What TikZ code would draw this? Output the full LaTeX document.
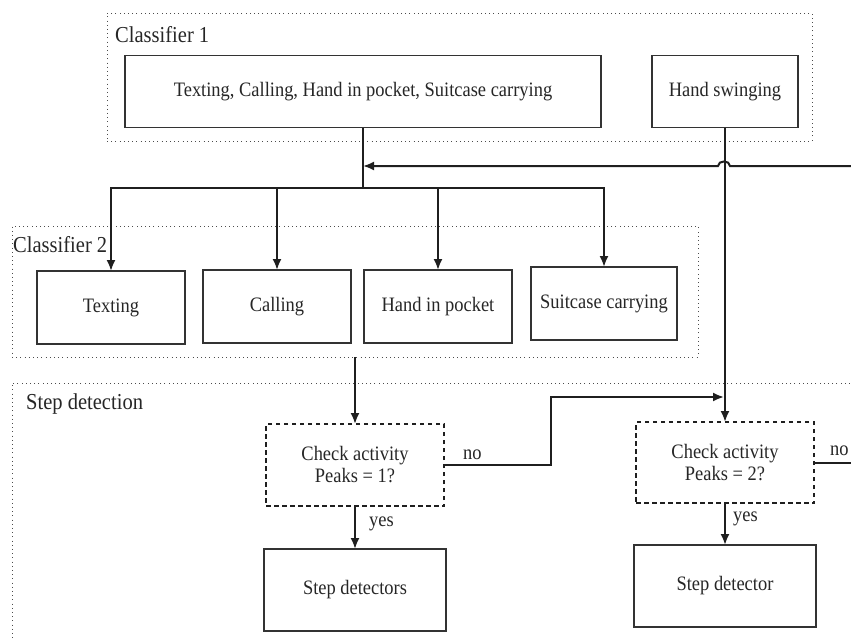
\documentclass[tikz,border=0pt]{standalone}
\usepackage{fontspec}
\setmainfont{Liberation Serif}[FakeStretch=0.9]
\usetikzlibrary{arrows.meta}
\begin{document}
\begin{tikzpicture}[x=1pt,y=-1pt,
  box/.style={draw=black!80, line width=1.3pt, anchor=north west, inner sep=0pt,
    outer sep=0pt, align=center, font=\fontsize{20.5}{22}\selectfont, text=black!85},
  checkbox/.style={box, dash pattern=on 4.5pt off 3.5pt, line width=2pt, draw=black!88},
  group/.style={draw=black!70, line width=0.9pt, dash pattern=on 0.9pt off 3.3pt,
    anchor=north west, inner sep=0pt, outer sep=0pt},
  grouplabel/.style={anchor=base west, inner sep=0pt, font=\fontsize{22.8}{24}\selectfont, text=black!85},
  edgelabel/.style={anchor=base west, inner sep=0pt, font=\fontsize{20.5}{22}\selectfont, text=black!85},
  wire/.style={draw=black!88, line width=2pt},
  flow/.style={wire, -{Latex[length=11pt,width=9pt]}}
]
\useasboundingbox (0,0) rectangle (851,637);
\clip (0,0) rectangle (851,637);

% dotted groups
\node[group, minimum width=705pt, minimum height=128pt] (grp1) at (107,13) {};
\node[group, minimum width=686pt, minimum height=131pt] (grp2) at (12,226) {};
\node[group, minimum width=880pt, minimum height=300pt] (grp3) at (12,383) {};

\node[grouplabel] (lab1) at (115,42) {Classifier 1};
\node[grouplabel] (lab2) at (13,252) {Classifier 2};
\node[grouplabel] (lab3) at (26,409) {Step detection};

% classifier 1
\node[box, minimum width=476pt, minimum height=72pt] (c1all) at (125,55.5)
  {Texting, Calling, Hand in pocket, Suitcase carrying};
\node[box, minimum width=146pt, minimum height=72pt] (hs) at (652,55.5) {Hand swinging};

% classifier 2
\node[box, minimum width=148pt, minimum height=73pt] (texting) at (37,271) {Texting};
\node[box, minimum width=148pt, minimum height=73pt] (calling) at (203,270) {Calling};
\node[box, minimum width=148pt, minimum height=73pt] (pocket) at (364,270) {Hand in pocket};
\node[box, minimum width=146pt, minimum height=73pt] (suitcase) at (531,267) {Suitcase carrying};

% step detection
\node[checkbox, minimum width=178pt, minimum height=82pt] (p1) at (266,424)
  {Check activity\\Peaks = 1?};
\node[checkbox, minimum width=178pt, minimum height=81pt] (p2) at (636,422)
  {Check activity\\Peaks = 2?};
\node[box, minimum width=182pt, minimum height=82pt] (sd1) at (264,549) {Step detectors};
\node[box, minimum width=182pt, minimum height=82pt] (sd2) at (634,545) {Step detector};

\node[edgelabel] (no1) at (463,459) {no};
\node[edgelabel] (no2) at (830,455) {no};
\node[edgelabel] (yes1) at (369,526) {yes};
\node[edgelabel] (yes2) at (733,521) {yes};

% connectors
\coordinate (split) at (363,188);
\coordinate (fbin) at (851,166);
\coordinate (fbjoin) at (363,166);
\coordinate (merge) at (724,397);
\coordinate (exit2) at (851,462);

\draw[wire] (c1all.south) -- (split);
\draw[flow] (split) -| (texting.north);
\draw[flow] (split) -| (calling.north);
\draw[flow] (split) -| (pocket.north);
\draw[flow] (split) -| (suitcase.north);

\draw[flow] (fbin) -- (730,166) .. controls (730,160) and (718,160) .. (718,166) -- (fbjoin);
\draw[flow] (hs.south) -- (p2.north);

\draw[flow] (grp2.south -| p1.north) -- (p1.north);
\draw[flow] (p1.east) -- (551,465) |- (merge);
\draw[wire] (p2.east) -- (p2.east -| exit2);
\draw[flow] (p1.south) -- (sd1.north);
\draw[flow] (p2.south) -- (sd2.north);
\end{tikzpicture}
\end{document}
